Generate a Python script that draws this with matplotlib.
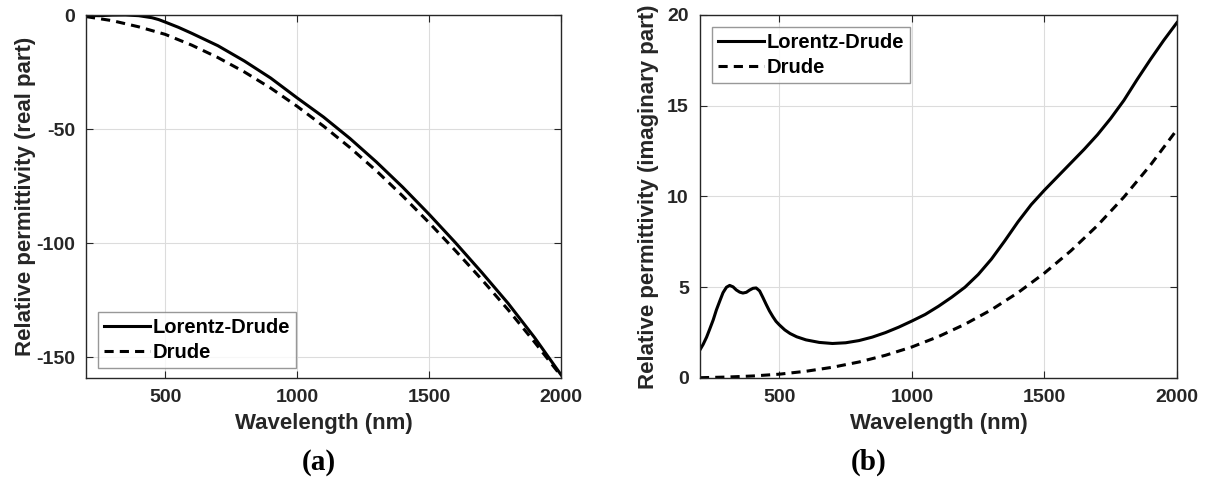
import matplotlib.pyplot as plt
import numpy as np

# real part (left panel)
wl_re = [200, 250, 300, 350, 400, 450, 475, 500, 550, 600, 700, 800, 900, 1000,
         1100, 1200, 1300, 1400, 1500, 1600, 1700, 1800, 1900, 2000]
ld_re = [0.0, -0.1, 0.15, 0.2, -0.1, -1.0, -1.8, -2.9, -5.2, -7.8, -13.3, -20.0, -27.5, -36.2,
         -44.6, -54.0, -64.3, -75.4, -87.3, -99.8, -112.9, -126.5, -141.5, -157.8]
wl_dr = [200, 300, 400, 500, 600, 700, 800, 900, 1000, 1100, 1200,
         1300, 1400, 1500, 1600, 1700, 1800, 1900, 2000]
dr_re = [-0.5, -2.3, -5.0, -8.3, -13.0, -18.5, -24.8, -31.9, -39.9, -48.6, -58.0,
         -68.2, -79.3, -91.0, -103.3, -116.0, -129.3, -143.5, -158.3]

# imaginary part (right panel)
wl_im = [200, 212, 225, 237, 250, 262, 275, 287, 300, 312, 325, 337, 350, 362, 375,
         387, 400, 412, 425, 437, 450, 462, 475, 487, 500, 520, 540, 565, 600, 650,
         700, 750, 800, 850, 900, 950, 1000, 1050, 1100, 1150, 1200, 1250, 1300,
         1350, 1400, 1450, 1500, 1550, 1600, 1650, 1700, 1750, 1800, 1850, 1900,
         1950, 2000]
ld_im = [1.55, 1.85, 2.25, 2.7, 3.2, 3.75, 4.25, 4.7, 5.0, 5.1, 5.02, 4.85, 4.73, 4.68, 4.72,
         4.84, 4.94, 4.96, 4.8, 4.45, 4.05, 3.7, 3.38, 3.12, 2.92, 2.65, 2.45, 2.27, 2.1, 1.96,
         1.90, 1.94, 2.06, 2.25, 2.5, 2.8, 3.14, 3.5, 3.95, 4.45, 5.0, 5.7, 6.55,
         7.55, 8.6, 9.55, 10.35, 11.1, 11.85, 12.6, 13.4, 14.3, 15.3, 16.45, 17.55,
         18.6, 19.58]
dr_im = [0.015, 0.05, 0.11, 0.21, 0.37, 0.59, 0.88, 1.25, 1.71, 2.28, 2.96,
         3.76, 4.70, 5.78, 7.01, 8.40, 9.97, 11.73, 13.68]

plt.rcParams['font.family'] = ['Liberation Sans', 'DejaVu Sans']
plt.rcParams['font.weight'] = 'bold'
plt.rcParams['axes.unicode_minus'] = False

fig = plt.figure(figsize=(12.06, 4.79), dpi=100)
ax1 = fig.add_axes([0.0713, 0.2109, 0.3939, 0.7578])
ax2 = fig.add_axes([0.5804, 0.2109, 0.3955, 0.7578])

dk = '#262626'
for ax in (ax1, ax2):
    ax.grid(True, color='#dcdcdc', linewidth=0.8)
    ax.set_axisbelow(True)
    ax.tick_params(direction='in', top=True, right=True, length=5, width=0.8,
                   colors=dk, labelsize=14, pad=8)
    for sp in ax.spines.values():
        sp.set_color(dk)
        sp.set_linewidth(1.0)
    ax.set_xlim(200, 2000)
    ax.set_xticks([500, 1000, 1500, 2000])
    ax.set_xlabel('Wavelength (nm)', fontsize=16, fontweight='bold', color=dk, labelpad=5)
    for lab in ax.get_xticklabels() + ax.get_yticklabels():
        lab.set_fontweight('bold')

ax1.plot(wl_re, ld_re, color='k', lw=2.2, label='Lorentz-Drude')
ax1.plot(wl_dr, dr_re, color='k', lw=2.2, dashes=(3, 2), label='Drude')
ax1.set_ylim(-159.2, 0.2)
ax1.set_yticks([-150, -100, -50, 0])
ax1.set_ylabel('Relative permittivity (real part)', fontsize=16, fontweight='bold',
               color=dk, labelpad=0)

ax2.plot(wl_im, ld_im, color='k', lw=2.2, label='Lorentz-Drude')
ax2.plot(wl_dr, dr_im, color='k', lw=2.2, dashes=(3, 2), label='Drude')
ax2.set_ylim(0, 20)
ax2.set_yticks([0, 5, 10, 15, 20])
ax2.set_ylabel('Relative permittivity (imaginary part)', fontsize=16, fontweight='bold',
               color=dk, labelpad=6)

leg_kw = dict(fontsize=14.5, frameon=True, fancybox=False, edgecolor='#7f7f7f',
              handlelength=2.3, handletextpad=0.1, borderpad=0.3, labelspacing=0.3,
              borderaxespad=0)
l1 = ax1.legend(loc='lower left', bbox_to_anchor=(0.025, 0.027), **leg_kw)
l2 = ax2.legend(loc='upper left', bbox_to_anchor=(0.025, 0.967), **leg_kw)
for lg in (l1, l2):
    lg.get_frame().set_linewidth(1.0)
    for t in lg.get_texts():
        t.set_fontweight('bold')

fig.text(0.264, 0.035, '(a)', ha='center', va='center', fontsize=21,
         family='Liberation Serif', fontweight='bold')
fig.text(0.720, 0.035, '(b)', ha='center', va='center', fontsize=21,
         family='Liberation Serif', fontweight='bold')

fig.savefig('out.png', dpi=100)
